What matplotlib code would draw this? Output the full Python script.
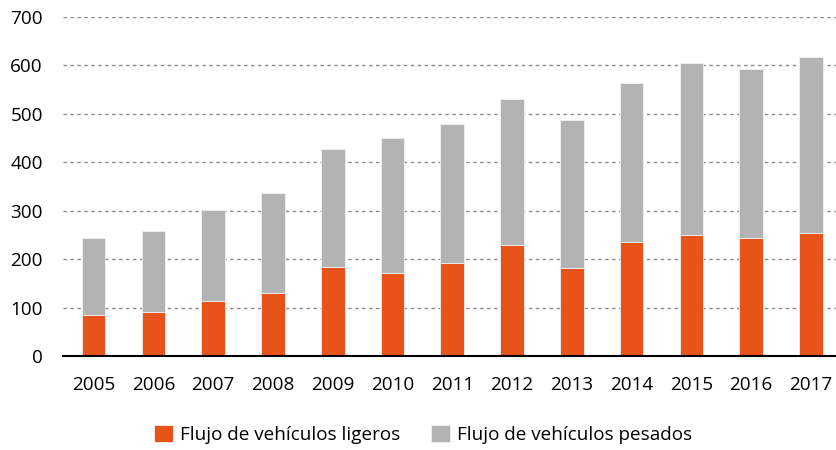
import matplotlib
matplotlib.use("Agg")
import matplotlib.pyplot as plt
import numpy as np

years = ["2005", "2006", "2007", "2008", "2009", "2010", "2011",
         "2012", "2013", "2014", "2015", "2016", "2017"]
ligeros = [85, 92, 114, 130, 184, 172, 192, 230, 181, 236, 249, 243, 254]
pesados = [158, 165, 188, 207, 242, 278, 286, 299, 305, 327, 356, 349, 362]
yticks = [0, 100, 200, 300, 400, 500, 600, 700]

c_lig = "#E8531A"
c_pes = "#B3B3B3"

plt.rcParams['font.family'] = ['Open Sans', 'DejaVu Sans']
FS = 13.6

fig = plt.figure(figsize=(8.36, 4.5), dpi=100)
W, H = 836, 450
y0, y1 = 356.2, 16.5
ax = fig.add_axes([63 / W, 1 - y0 / H, (836 - 63) / W, (y0 - y1) / H])

x = np.arange(len(years))
ax.bar(x, ligeros, width=0.395, color=c_lig, edgecolor="#F0F0F0", linewidth=0.6,
       label="Flujo de vehículos ligeros", zorder=3)
ax.bar(x, pesados, width=0.395, bottom=ligeros, color=c_pes, edgecolor="#F0F0F0",
       linewidth=0.6, label="Flujo de vehículos pesados", zorder=3)

ax.set_xlim(-0.513, 12.42)
ax.set_ylim(0, 700)
ax.set_yticks(yticks)
ax.set_yticklabels([str(v) for v in yticks])
ax.set_xticks(x)
ax.set_xticklabels(years)
ax.tick_params(axis='both', length=0, labelsize=FS, colors="#000000")
ax.tick_params(axis='y', pad=14.5)
ax.tick_params(axis='x', pad=14)

ax.yaxis.grid(True, linestyle=(0, (2.5, 2.5)), color="#8C8C8C", linewidth=1.0, zorder=0)
ax.set_axisbelow(True)
for s in ["top", "right", "left"]:
    ax.spines[s].set_visible(False)
ax.spines["bottom"].set_color("#000000")
ax.spines["bottom"].set_linewidth(1.5)
ax.spines["bottom"].set_zorder(4)

fig.legend(loc="center", bbox_to_anchor=(423 / W, 1 - 434.5 / H), ncol=2,
           frameon=False, fontsize=FS, handlelength=1.0, handleheight=1.0,
           handletextpad=0.4, columnspacing=1.6)

fig.savefig("out.png", dpi=100)
